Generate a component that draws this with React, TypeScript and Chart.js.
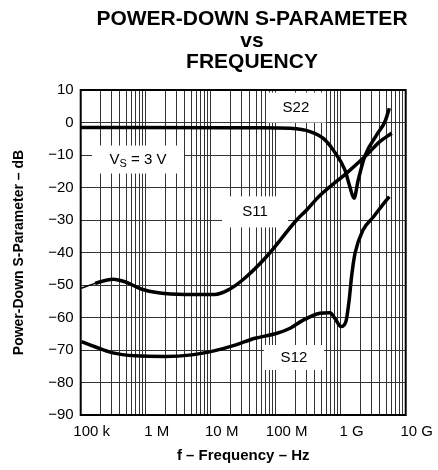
import React, { useEffect, useRef } from 'react';
import { Chart, registerables } from 'chart.js';

Chart.register(...registerables);

// ---- text ----
const TITLE_LINES = ['POWER-DOWN S-PARAMETER', 'vs', 'FREQUENCY'];
const X_TITLE = 'f \u2013 Frequency \u2013 Hz';
const Y_TITLE = 'Power-Down S-Parameter \u2013 dB';

// ---- axes ----
const X_MIN = 1e5;
const X_MAX = 1e10;
const X_MAJOR_TICKS = [1e5, 1e6, 1e7, 1e8, 1e9, 1e10];
const X_TICK_LABELS = ['100 k', '1 M', '10 M', '100 M', '1 G', '10 G'];
const X_MINOR_MULTIPLIERS = [1, 2, 3, 4, 5, 6, 7, 8, 9];
const Y_MIN = -90;
const Y_MAX = 10;
const Y_STEP = 10;

// ---- series (frequency in Hz, value in dB) ----
const S11_FREQ = [1.03e5, 1.66e5, 3.17e5, 4.8e5, 8.7e5, 1.56e6, 4.0e6, 1.16e7, 1.87e7, 3.16e7, 7.2e7, 2.1e8, 3.0e8, 4.5e8, 1.31e9, 2.5e9, 4.0e9, 6.1e9];
const S11_DB = [-51, -49.5, -48.2, -49, -51.3, -52.4, -52.9, -52.9, -51.5, -48.3, -41.3, -30, -26.9, -23, -15.1, -10, -5.9, -3.3];

const S22_FREQ = [1e5, 2e7, 6.3e7, 1.67e8, 3.37e8, 5.4e8, 7.7e8, 1.16e9, 1.38e9, 1.6e9, 1.86e9, 2.37e9, 3.58e9, 4.8e9, 5.6e9];
const S22_DB = [-1.5, -1.6, -1.6, -1.8, -2.8, -4.9, -8.5, -14.6, -19.7, -23.3, -17.7, -10.2, -3.8, 0.3, 4.4];

const S12_FREQ = [1.03e5, 1.66e5, 3.0e5, 6.84e5, 2.0e6, 5.1e6, 1.16e7, 2.37e7, 4.8e7, 9.8e7, 1.67e8, 2.65e8, 4.8e8, 6.84e8, 8.16e8, 1.01e9, 1.2e9, 1.35e9, 1.47e9, 1.66e9, 2.2e9, 3.2e9, 4.8e9, 5.6e9];
const S12_DB = [-67.4, -69, -70.8, -71.8, -72, -71.5, -70.2, -68.5, -66.4, -65, -63.3, -60.8, -58.7, -58.5, -60.3, -62.8, -61.3, -54.6, -47.4, -40.3, -33.1, -29, -24.4, -22.8];

// ---- annotation labels (anchored in data coordinates) ----
const LABEL_MAIN = ['S22', 'S11', 'S12', 'V'];
const LABEL_SUB = ['', '', '', 'S'];
const LABEL_REST = ['', '', '', ' = 3 V'];
const LABEL_FREQ = [2.05e8, 4.8e7, 1.91e8, 7.6e5];
const LABEL_DB = [4.6, -27.5, -72.3, -11.4];
const LABEL_BOX_W = [60, 66, 60, 92];
const LABEL_BOX_H = [30, 31, 25, 28];

const FONT = '"Liberation Sans", Arial, Helvetica, sans-serif';

const toPoints = (xs: number[], ys: number[]) => xs.map((x, i) => ({ x, y: ys[i] }));

const customPlugin = {
  id: 'customDecor',
  beforeDatasetsDraw(chart: any) {
    const { ctx, scales } = chart;
    const xs = scales.x;
    const ys = scales.y;
    ctx.save();
    for (let i = 0; i < LABEL_MAIN.length; i++) {
      const cx = xs.getPixelForValue(LABEL_FREQ[i]);
      const cy = ys.getPixelForValue(LABEL_DB[i]);
      const w = LABEL_BOX_W[i];
      const h = LABEL_BOX_H[i];
      ctx.fillStyle = '#fff';
      ctx.fillRect(cx - w / 2, cy - h / 2, w, h);
      ctx.fillStyle = '#000';
      ctx.textBaseline = 'middle';
      const mainFont = `15px ${FONT}`;
      const subFont = `11px ${FONT}`;
      ctx.font = mainFont;
      const wMain = ctx.measureText(LABEL_MAIN[i]).width;
      const wRest = ctx.measureText(LABEL_REST[i]).width;
      ctx.font = subFont;
      const wSub = ctx.measureText(LABEL_SUB[i]).width;
      const total = wMain + wSub + wRest;
      let px = cx - total / 2;
      ctx.textAlign = 'left';
      ctx.font = mainFont;
      ctx.fillText(LABEL_MAIN[i], px, cy);
      px += wMain;
      if (LABEL_SUB[i]) {
        ctx.font = subFont;
        ctx.fillText(LABEL_SUB[i], px, cy + 4);
        px += wSub;
      }
      if (LABEL_REST[i]) {
        ctx.font = mainFont;
        ctx.fillText(LABEL_REST[i], px, cy);
      }
    }
    ctx.restore();
  },
  afterDraw(chart: any) {
    const { ctx, chartArea } = chart;
    ctx.save();
    ctx.strokeStyle = '#000';
    ctx.lineWidth = 2;
    ctx.strokeRect(chartArea.left, chartArea.top, chartArea.right - chartArea.left, chartArea.bottom - chartArea.top);
    ctx.fillStyle = '#000';
    ctx.textAlign = 'center';
    ctx.textBaseline = 'alphabetic';
    ctx.font = `bold 21px ${FONT}`;
    const baselines = [25, 47, 68];
    TITLE_LINES.forEach((t, i) => ctx.fillText(t, 252, baselines[i]));
    ctx.restore();
  },
};

export default function App() {
  const canvasRef = useRef<HTMLCanvasElement | null>(null);

  useEffect(() => {
    if (!canvasRef.current) return;
    Chart.defaults.font.family = FONT;
    Chart.defaults.color = '#000';
    const lineStyle = {
      borderColor: '#000',
      borderWidth: 3.5,
      pointRadius: 0,
      fill: false,
      cubicInterpolationMode: 'monotone' as const,
    };
    const chart = new Chart(canvasRef.current, {
      type: 'line',
      data: {
        datasets: [
          {
            label: 'S11',
            data: toPoints(S11_FREQ, S11_DB),
            ...lineStyle,
            segment: { borderWidth: (c: any) => (c.p0DataIndex === 0 ? 1.5 : undefined) },
          },
          { label: 'S22', data: toPoints(S22_FREQ, S22_DB), ...lineStyle },
          { label: 'S12', data: toPoints(S12_FREQ, S12_DB), ...lineStyle },
        ],
      },
      options: {
        responsive: false,
        animation: false,
        layout: { padding: { top: 90, right: 32.3, left: 0, bottom: 0 } },
        plugins: { legend: { display: false }, tooltip: { enabled: false }, title: { display: false } },
        scales: {
          x: {
            type: 'logarithmic',
            min: X_MIN,
            max: X_MAX,
            afterBuildTicks: (scale: any) => {
              const t: any[] = [];
              X_MAJOR_TICKS.forEach((base, d) => {
                if (d === X_MAJOR_TICKS.length - 1) {
                  t.push({ value: base });
                } else {
                  X_MINOR_MULTIPLIERS.forEach((m) => t.push({ value: base * m }));
                }
              });
              scale.ticks = t;
            },
            afterFit: (scale: any) => {
              scale.height = 55;
            },
            ticks: {
              autoSkip: false,
              maxRotation: 0,
              minRotation: 0,
              padding: 8,
              labelOffset: 11,
              font: { size: 15 },
              color: '#000',
              callback: (value: any) => {
                const i = X_MAJOR_TICKS.indexOf(Number(value));
                return i >= 0 ? X_TICK_LABELS[i] : '';
              },
            },
            grid: { color: '#333', lineWidth: 1, drawTicks: false },
            border: { display: false },
            title: { display: true, text: X_TITLE, font: { size: 15, weight: 'bold' }, color: '#000', padding: { top: 0, bottom: 5 } },
          },
          y: {
            type: 'linear',
            min: Y_MIN,
            max: Y_MAX,
            afterFit: (scale: any) => {
              scale.width = 80.7;
            },
            ticks: {
              stepSize: Y_STEP,
              padding: 7,
              font: { size: 15 },
              color: '#000',
              callback: (v: any) => (Number(v) < 0 ? '\u2212' + Math.abs(Number(v)) : String(v)),
            },
            grid: { color: '#333', lineWidth: 1, drawTicks: false },
            border: { display: false },
            title: { display: true, text: Y_TITLE, font: { size: 14, weight: 'bold' }, color: '#000', padding: { top: 11, bottom: 0 } },
          },
        },
      },
      plugins: [customPlugin],
    } as any);
    return () => chart.destroy();
  }, []);

  return (
    <div style={{ position: 'absolute', left: 0, top: 0, width: 438, height: 470, background: '#fff' }}>
      <canvas ref={canvasRef} width={438} height={470} style={{ display: 'block' }} />
    </div>
  );
}
